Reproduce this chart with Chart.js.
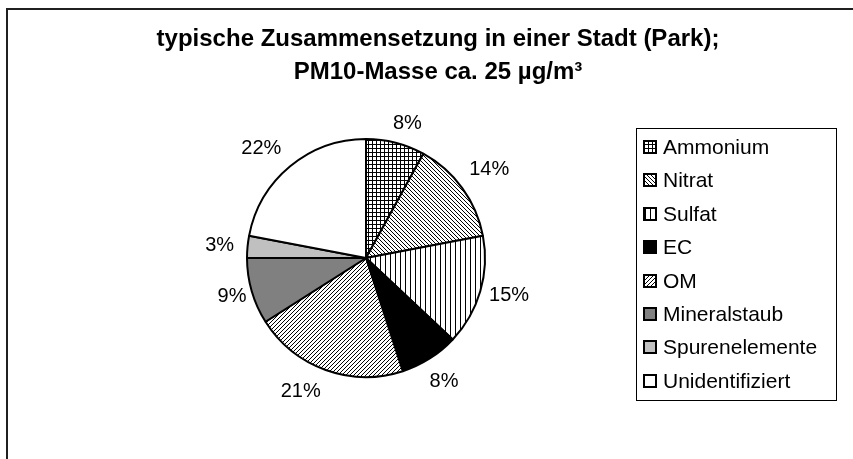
<!DOCTYPE html>
<html>
<head>
<meta charset="utf-8">
<script src="https://cdn.jsdelivr.net/npm/chart.js@4/dist/chart.umd.min.js"></script>
<style>
html,body{margin:0;padding:0;background:#fff;}
#wrap{position:relative;width:853px;height:459px;overflow:hidden;}
canvas{display:block;}
</style>
</head>
<body>
<div id="wrap"><canvas id="c" width="853" height="459"></canvas></div>
<script>
// ---- data ----
const titleLines = ['typische Zusammensetzung in einer Stadt (Park);', 'PM10-Masse ca. 25 µg/m³'];
const categories = ['Ammonium', 'Nitrat', 'Sulfat', 'EC', 'OM', 'Mineralstaub', 'Spurenelemente', 'Unidentifiziert'];
const shares = [8, 14, 15, 8, 21, 9, 3, 22];
// ---- styles ----
const fillKinds = ['grid', 'back', 'vert', 'solid:#000000', 'fwd', 'solid:#808080', 'solid:#c0c0c0', 'solid:#ffffff'];
const labelNudge = [[6, 2], [0, 0], [-4, -6], [0, 0], [-16, -4], [8, -4], [0, 0], [-9, 5]];

const FONT = "'Liberation Sans', Arial, Helvetica, sans-serif";
const canvas = document.getElementById('c');
const ctx = canvas.getContext('2d');

function makeFill(kind) {
  if (kind.startsWith('solid:')) return kind.slice(6);
  const size = kind === 'vert' ? 5 : 4;
  const t = document.createElement('canvas');
  t.width = size; t.height = size;
  const g = t.getContext('2d');
  g.fillStyle = '#ffffff'; g.fillRect(0, 0, size, size);
  g.fillStyle = '#000000';
  for (let y = 0; y < size; y++) {
    for (let x = 0; x < size; x++) {
      let on = false;
      if (kind === 'grid') on = (x === 0) || (y === 0);
      else if (kind === 'back') on = ((x - y + size) % size === 0);
      else if (kind === 'fwd') on = ((x + y) % size === 0);
      else if (kind === 'vert') on = (x === 0);
      if (on) g.fillRect(x, y, 1, 1);
    }
  }
  return ctx.createPattern(t, 'repeat');
}
const fills = fillKinds.map(makeFill);

// background + chart frame
const framePlugin = {
  id: 'frame',
  beforeDraw(chart) {
    const c = chart.ctx;
    c.save();
    c.fillStyle = '#ffffff';
    c.fillRect(0, 0, chart.width, chart.height);
    c.fillStyle = '#202020';
    c.fillRect(6, 8, chart.width - 6, 2);
    c.fillRect(6, 8, 2, chart.height - 8);
    c.restore();
  }
};

// percentage labels outside slices
const labelPlugin = {
  id: 'outLabels',
  afterDatasetsDraw(chart) {
    const c = chart.ctx;
    const meta = chart.getDatasetMeta(0);
    const data = chart.data.datasets[0].data;
    c.save();
    c.font = '20px ' + FONT;
    c.fillStyle = '#000';
    c.textAlign = 'center';
    c.textBaseline = 'middle';
    meta.data.forEach((arc, i) => {
      const p = arc.getProps(['x', 'y', 'startAngle', 'endAngle', 'outerRadius'], true);
      const mid = (p.startAngle + p.endAngle) / 2;
      const txt = data[i] + '%';
      const w = c.measureText(txt).width;
      const h = 14;
      const dx = Math.cos(mid), dy = Math.sin(mid);
      const half = Math.abs(dx) * w / 2 + Math.abs(dy) * h / 2;
      const d = p.outerRadius + 13 + half;
      const n = labelNudge[i] || [0, 0];
      c.fillText(txt, p.x + dx * d + n[0], p.y + dy * d + 1 + n[1]);
    });
    c.restore();
  }
};

// boxed legend on the right
const legendPlugin = {
  id: 'boxLegend',
  afterDraw(chart) {
    const c = chart.ctx;
    const labels = chart.data.labels;
    const bg = chart.data.datasets[0].backgroundColor;
    const x0 = 636, y0 = 128, bw = 200, bh = 272;
    const first = 147, step = 33.4;
    c.save();
    c.strokeStyle = '#000';
    c.lineWidth = 1;
    c.strokeRect(x0 + 0.5, y0 + 0.5, bw, bh);
    c.font = '21px ' + FONT;
    c.textAlign = 'left';
    c.textBaseline = 'middle';
    labels.forEach((lab, i) => {
      const cy = Math.round(first + i * step);
      c.fillStyle = bg[i];
      c.fillRect(644, cy - 6, 12, 12);
      c.lineWidth = 2;
      c.strokeStyle = '#000';
      c.strokeRect(644, cy - 6, 12, 12);
      c.fillStyle = '#000';
      c.fillText(lab, 663, cy + 1);
    });
    c.restore();
  }
};

new Chart(canvas, {
  type: 'pie',
  data: {
    labels: categories,
    datasets: [{
      data: shares,
      backgroundColor: fills,
      borderColor: '#000000',
      borderWidth: 2
    }]
  },
  options: {
    responsive: false,
    animation: false,
    devicePixelRatio: 1,
    events: [],
    layout: { padding: { top: 0, left: 23, right: 0, bottom: 81 } },
    plugins: {
      legend: { display: false },
      tooltip: { enabled: false },
      title: {
        display: true,
        text: titleLines,
        color: '#000',
        font: { family: FONT, size: 24, weight: 'bold', lineHeight: 33 / 24 },
        padding: { top: 22.5, bottom: 49.5 }
      },
      subtitle: {
        display: true,
        position: 'right',
        fullSize: false,
        text: ' ',
        color: 'rgba(0,0,0,0)',
        font: { size: 10, lineHeight: 1.2 },
        padding: { top: 0, bottom: 132 }
      }
    }
  },
  plugins: [framePlugin, labelPlugin, legendPlugin]
});
</script>
</body>
</html>
